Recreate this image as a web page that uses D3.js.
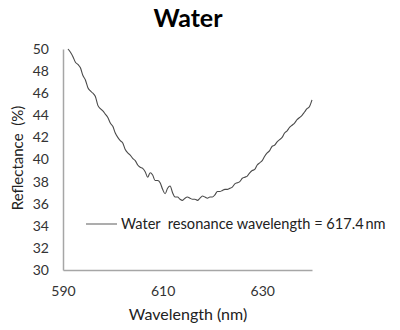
<!DOCTYPE html>
<html>
<head>
<meta charset="utf-8">
<script src="https://cdn.jsdelivr.net/npm/d3@7"></script>
<style>
  body { margin: 0; background: #fff; }
  svg { display: block; font-family: 'Lato', sans-serif; }
</style>
</head>
<body>
<svg id="chart" width="400" height="330"></svg>
<script>
// wavelength (nm) and reflectance (%)
const wavelength = [
  591.0, 591.5, 592.0, 592.5, 593.0, 593.5, 594.0, 594.5, 595.0, 595.5,
  596.0, 596.5, 597.0, 597.5, 598.0, 598.5, 599.0, 599.5, 600.0, 600.5,
  601.0, 601.5, 602.0, 602.5, 603.0, 603.5, 604.0, 604.5, 605.0, 605.5,
  606.0, 606.5, 607.0, 607.5, 608.0, 608.5, 609.0, 609.5, 610.0, 610.5,
  611.0, 611.5, 612.0, 612.5, 613.0, 613.5, 614.0, 614.5, 615.0, 615.5,
  616.0, 616.5, 617.0, 617.5, 618.0, 618.5, 619.0, 619.5, 620.0, 620.5,
  621.0, 621.5, 622.0, 622.5, 623.0, 623.5, 624.0, 624.5, 625.0, 625.5,
  626.0, 626.5, 627.0, 627.5, 628.0, 628.5, 629.0, 629.5, 630.0, 630.5,
  631.0, 631.5, 632.0, 632.5, 633.0, 633.5, 634.0, 634.5, 635.0, 635.5,
  636.0, 636.5, 637.0, 637.5, 638.0, 638.5, 639.0, 639.5, 640.0
];
const reflectance = [
  50.0, 49.7, 49.3, 48.8, 48.6, 48.3, 47.6, 47.2, 46.5, 46.2,
  46.0, 45.7, 44.9, 44.6, 44.4, 44.1, 43.8, 43.3, 43.0, 42.4,
  42.0, 41.7, 41.5, 40.9, 40.6, 40.4, 40.1, 39.9, 39.5, 39.3,
  39.2, 38.9, 38.4, 38.8, 38.6, 38.1, 38.1, 37.9, 37.3, 36.9,
  37.4, 37.6, 37.0, 36.6, 36.6, 36.4, 36.3, 36.5, 36.6, 36.5,
  36.4, 36.4, 36.3, 36.5, 36.7, 36.6, 36.5, 36.6, 36.6, 36.8,
  37.1, 37.1, 37.2, 37.3, 37.3, 37.4, 37.5, 37.8, 37.9, 38.0,
  38.3, 38.4, 38.5, 38.8, 39.0, 39.1, 39.5, 39.7, 39.9, 40.3,
  40.6, 40.8, 41.2, 41.3, 41.6, 41.8, 42.0, 42.4, 42.6, 42.9,
  43.1, 43.3, 43.6, 43.8, 44.0, 44.3, 44.6, 44.8, 45.4
];
const xTicks = [590, 610, 630];
const yTicks = [30, 32, 34, 36, 38, 40, 42, 44, 46, 48, 50];
const seriesName = 'Water  resonance wavelength = 617.4\u2009nm';

const margin = {top: 49, right: 88, bottom: 60, left: 63},
      width = 400 - margin.left - margin.right,
      height = 330 - margin.top - margin.bottom;

const svg = d3.select('#chart');
const g = svg.append('g')
             .attr('transform', `translate(${margin.left}, ${margin.top})`);

const x = d3.scaleLinear().domain([590, 640]).range([0, width]);
const y = d3.scaleLinear().domain([30, 50]).range([height, 0]);

// title
svg.append('text')
  .text('Water')
  .attr('x', 188)
  .attr('y', 27)
  .attr('text-anchor', 'middle')
  .style('font-size', '25px')
  .style('font-weight', 700)
  .style('fill', '#000');

// axes
const yAxis = g.append('g')
  .call(d3.axisLeft(y).tickValues(yTicks).tickSize(0).tickPadding(14).tickFormat(d3.format('d')));
const xAxis = g.append('g')
  .attr('transform', `translate(0, ${height})`)
  .call(d3.axisBottom(x).tickValues(xTicks).tickSize(0).tickPadding(16).tickFormat(d3.format('d')));

[yAxis, xAxis].forEach(a => {
  a.select('.domain').attr('stroke', '#a6a6a6').attr('stroke-width', 1.5);
  a.selectAll('text').style('font-size', '14px').style('fill', '#333').style('font-family', "'Lato', sans-serif");
});

// axis titles
svg.append('text')
  .text('Reflectance  (%)')
  .attr('transform', 'translate(23, 158) rotate(-90)')
  .attr('text-anchor', 'middle')
  .style('font-size', '15px')
  .style('white-space', 'pre')
  .style('fill', '#222');

svg.append('text')
  .text('Wavelength (nm)')
  .attr('x', 188)
  .attr('y', 320)
  .attr('text-anchor', 'middle')
  .style('font-size', '16px')
  .style('fill', '#222');

// the curve
const data = wavelength.map((w, i) => ({w: w, r: reflectance[i]}));
const line = d3.line()
  .x(d => x(d.w))
  .y(d => y(d.r))
  .curve(d3.curveMonotoneX);

g.append('path')
  .datum(data)
  .attr('d', line)
  .attr('fill', 'none')
  .attr('stroke', '#4a4a4a')
  .attr('stroke-width', 1.1);

// legend
const legend = svg.append('g').attr('transform', 'translate(86, 224)');
legend.append('line')
  .attr('x1', 0).attr('x2', 31)
  .attr('y1', 0).attr('y2', 0)
  .attr('stroke', '#777')
  .attr('stroke-width', 1.2);
legend.append('text')
  .text(seriesName)
  .attr('x', 35)
  .attr('y', 5)
  .style('font-size', '14.6px')
  .style('white-space', 'pre')
  .style('fill', '#222');
</script>
</body>
</html>
